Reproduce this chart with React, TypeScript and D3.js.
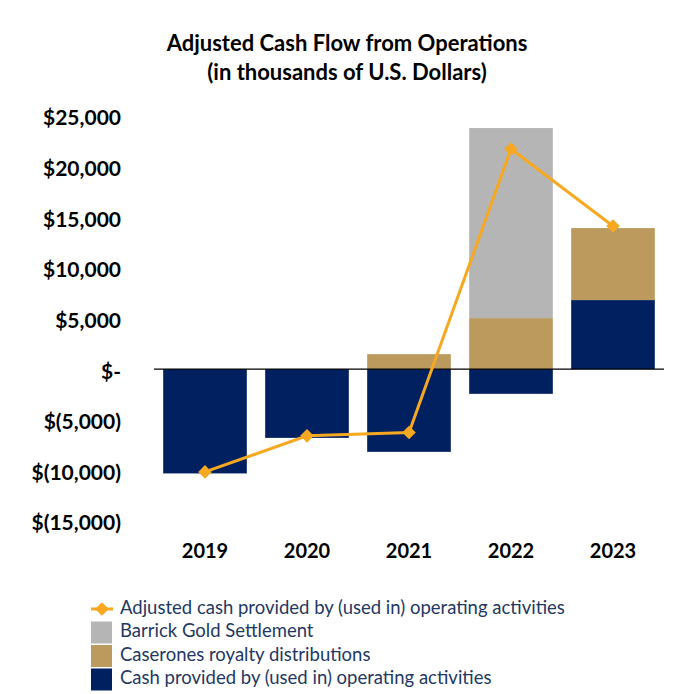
import React from "react";
import * as d3 from "d3";

const years = ["2019", "2020", "2021", "2022", "2023"];
const cashOps = [-10300, -6790, -8170, -2440, 6820];
const caserones = [0, 0, 1480, 5040, 7110];
const barrick = [0, 0, 0, 18770, 0];
const adjusted = [-10150, -6590, -6260, 21740, 14130];
const yTicks = [25000, 20000, 15000, 10000, 5000, 0, -5000, -10000, -15000];
const legendItems = [
  "Adjusted cash provided by (used in) operating activities",
  "Barrick Gold Settlement",
  "Caserones royalty distributions",
  "Cash provided by (used in) operating activities",
];

const W = 694;
const H = 694;
const navy = "#002060";
const tan = "#BC9A5E";
const gray = "#B5B5B5";
const orange = "#F6A821";
const font = "Lato, 'Open Sans', sans-serif";

function fmt(v: number) {
  if (v === 0) return "$-";
  const s = d3.format(",")(Math.abs(v));
  return v < 0 ? `$(${s})` : `$${s}`;
}

export default function App() {
  const x = d3
    .scaleBand<string>()
    .domain(years)
    .range([154, 664])
    .paddingInner(0.18)
    .paddingOuter(0.09);
  const y = d3.scaleLinear().domain([-15000, 25000]).range([521, 116]);
  const cx = (yr: string) => (x(yr) as number) + x.bandwidth() / 2;

  const line = d3
    .line<number>()
    .x((_, i) => cx(years[i]))
    .y((d) => y(d));

  // square turned 45 degrees, as in the original
  const diamond = d3.symbol(d3.symbolSquare, 92)() as string;

  return (
    <svg width={W} height={H} style={{ position: "absolute", left: 0, top: 0 }}>
      <rect width={W} height={H} fill="#fff" />
      <g fontFamily={font} fontWeight="bold" fill="#000" textAnchor="middle" fontSize={22}>
        <text x={347} y={51}>
          Adjusted Cash Flow from Operations
        </text>
        <text x={347} y={80}>
          (in thousands of U.S. Dollars)
        </text>
      </g>

      <g fontFamily={font} fontWeight="bold" fontSize={21} textAnchor="end">
        {yTicks.map((t) => (
          <text key={t} x={121} y={y(t) + 4} dominantBaseline="middle">
            {fmt(t)}
          </text>
        ))}
      </g>

      {years.map((yr, i) => {
        const bx = x(yr) as number;
        const bw = x.bandwidth();
        const c = cashOps[i];
        const cs = caserones[i];
        const b = barrick[i];
        const posBase = c > 0 ? c : 0;
        return (
          <g key={yr}>
            <rect x={bx} width={bw} y={y(Math.max(c, 0))} height={Math.abs(y(c) - y(0))} fill={navy} />
            {cs > 0 && (
              <rect x={bx} width={bw} y={y(posBase + cs)} height={y(posBase) - y(posBase + cs)} fill={tan} />
            )}
            {b > 0 && (
              <rect
                x={bx}
                width={bw}
                y={y(posBase + cs + b)}
                height={y(posBase + cs) - y(posBase + cs + b)}
                fill={gray}
              />
            )}
          </g>
        );
      })}

      <line x1={154} x2={664} y1={y(0)} y2={y(0)} stroke="#000" strokeWidth={1.3} />

      <path d={line(adjusted) as string} fill="none" stroke={orange} strokeWidth={3} />
      {adjusted.map((v, i) => (
        <path
          key={i}
          d={diamond}
          fill={orange}
          transform={`translate(${cx(years[i])},${y(v)}) rotate(45)`}
        />
      ))}

      <g fontFamily={font} fontWeight="bold" fontSize={20} textAnchor="middle">
        {years.map((yr) => (
          <text key={yr} x={cx(yr)} y={558}>
            {yr}
          </text>
        ))}
      </g>

      <g fontFamily={font} fontSize={18.5} fill="#1F3864">
        {legendItems.map((lbl, i) => {
          const cy = 609 + i * 23.5;
          return (
            <g key={lbl}>
              {i === 0 ? (
                <g>
                  <line x1={91} x2={113} y1={cy} y2={cy} stroke={orange} strokeWidth={3} />
                  <path d={diamond} fill={orange} transform={`translate(102,${cy}) rotate(45)`} />
                </g>
              ) : (
                <rect
                  x={91}
                  y={cy - 11}
                  width={21}
                  height={22}
                  fill={i === 1 ? gray : i === 2 ? tan : navy}
                />
              )}
              <text x={120} y={cy} dominantBaseline="middle">
                {lbl}
              </text>
            </g>
          );
        })}
      </g>
    </svg>
  );
}
